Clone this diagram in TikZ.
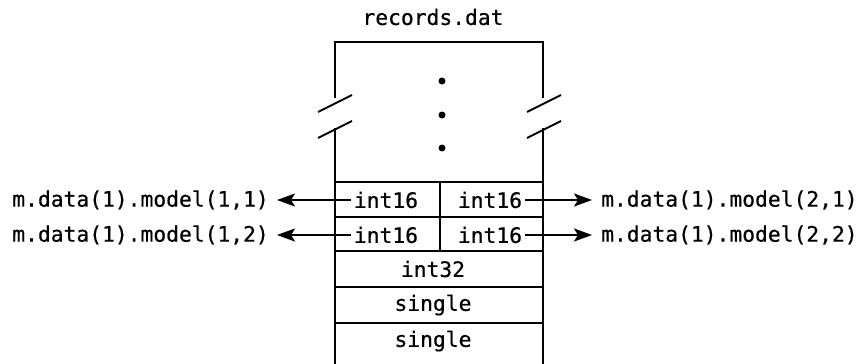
\documentclass[tikz,border=0pt]{standalone}
\usepackage{fontspec}
\setmonofont[FakeBold=0.5]{DejaVu Sans Mono}
\usetikzlibrary{arrows.meta}
\begin{document}
\begin{tikzpicture}[x=1pt,y=-1pt,
  ln/.style={line width=2.4pt},
  thin/.style={line width=2pt},
  txt/.style={font=\ttfamily\fontsize{21.3}{23}\selectfont, inner sep=0pt},
  arr/.style={line width=2.2pt,-{Stealth[length=18pt,width=13pt,inset=4pt]}}]
\useasboundingbox (0,0) rectangle (865,364);
% outer box
\draw[ln] (335,98) -- (335,42) -- (543,42) -- (543,98);
\draw[ln] (335,128) -- (335,364);
\draw[ln] (543,128) -- (543,364);
% break marks
\draw[thin] (318,112) -- (352,95);
\draw[thin] (318,138) -- (352,121);
\draw[thin] (527,112) -- (561,95);
\draw[thin] (527,138) -- (561,121);
% dots
\fill (442,81) circle (3.5);
\fill (442,115) circle (3.5);
\fill (442,148) circle (3.5);
% rows
\foreach \yy in {182,217,251,287,323} \draw[thin] (335,\yy) -- (543,\yy);
\draw[ln] (440,182) -- (440,251);
% texts
\node[txt] (title) at (433,17) {records.dat};
\node[txt] (a1) at (386,200) {int16};
\node[txt] (b1) at (490,200) {int16};
\node[txt] (a2) at (386,235) {int16};
\node[txt] (b2) at (490,235) {int16};
\node[txt] (c) at (433,269) {int32};
\node[txt] (d) at (433,305) {single};
\node[txt] (e) at (433,341) {single};
\node[txt, anchor=east] (l1) at (269,200) {m.data(1).model(1,1)};
\node[txt, anchor=east] (l2) at (269,235) {m.data(1).model(1,2)};
\node[txt, anchor=west] (r1) at (601,200) {m.data(1).model(2,1)};
\node[txt, anchor=west] (r2) at (601,235) {m.data(1).model(2,2)};
% arrows
\draw[arr] ([xshift=-3pt]a1.west) -- ([xshift=8pt]l1.east);
\draw[arr] ([xshift=-3pt]a2.west) -- ([xshift=8pt]l2.east);
\draw[arr] ([xshift=3pt]b1.east) -- ([xshift=-9pt]r1.west);
\draw[arr] ([xshift=3pt]b2.east) -- ([xshift=-9pt]r2.west);
\end{tikzpicture}
\end{document}
